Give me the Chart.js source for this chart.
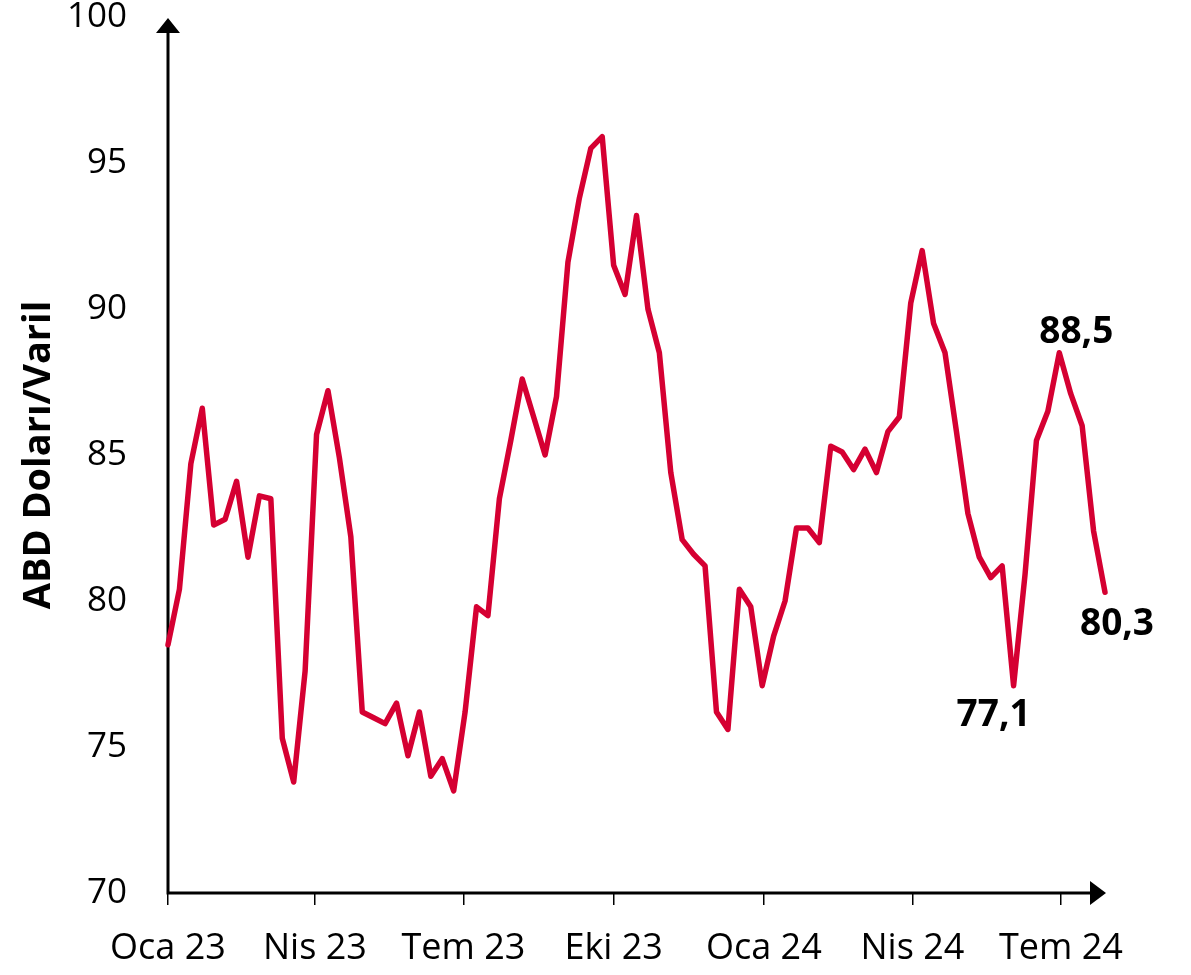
<!DOCTYPE html>
<html lang="tr">
<head>
<meta charset="utf-8">
<title>Brent petrol</title>
<script src="https://cdn.jsdelivr.net/npm/chart.js@4.4.1/dist/chart.umd.min.js"></script>
<style>
    html, body { margin: 0; padding: 0; background: #fff; }
    #wrap { width: 1191px; height: 975px; }
</style>
</head>
<body>
<div id="wrap"><canvas id="chart" width="1191" height="975"></canvas></div>
<script>
// haftalık fiyatlar, Ocak 2023 - Ağustos 2024 (ABD Doları/Varil)
const prices = [
    78.5, 80.4, 84.7, 86.6, 82.6, 82.8, 84.1, 81.5, 83.6, 83.5,
    75.3, 73.8, 77.6, 85.7, 87.2, 84.9, 82.2, 76.2, 76.0, 75.8,
    76.5, 74.7, 76.2, 74.0, 74.6, 73.5, 76.2, 79.8, 79.5, 83.5,
    85.5, 87.6, 86.3, 85.0, 87.0, 91.6, 93.8, 95.5, 95.9, 91.5,
    90.5, 93.2, 90.0, 88.5, 84.4, 82.1, 81.6, 81.2, 76.2, 75.6,
    80.4, 79.8, 77.1, 78.8, 80.0, 82.5, 82.5, 82.0, 85.3, 85.1,
    84.5, 85.2, 84.4, 85.8, 86.3, 90.2, 92.0, 89.5, 88.5, 85.8,
    83.0, 81.5, 80.8, 81.2, 77.1, 80.9, 85.5, 86.5, 88.5, 87.1,
    86.0, 82.4, 80.3
];

// eksen etiketleri (gün, 1 Ocak 2023'ten itibaren)
const tickDays = [0, 90, 181, 273, 365, 456, 547];
const tickLabels = ['Oca 23', 'Nis 23', 'Tem 23', 'Eki 23', 'Oca 24', 'Nis 24', 'Tem 24'];
const yTicks = [70, 75, 80, 85, 90, 95, 100];

// etiketli noktalar
const labelledPoints = [74, 78, 82];

const points = prices.map((v, i) => ({ x: i * 7, y: v }));
const fmt = v => v.toFixed(1).replace('.', ',');

const labelOffsets = { 74: [-20, 30], 78: [17, -20], 82: [12, 32] };

const axisArrows = {
    id: 'axisArrows',
    beforeDatasetsDraw(chart) {
        const { ctx, chartArea: a } = chart;
        ctx.save();
        ctx.strokeStyle = '#000';
        ctx.fillStyle = '#000';
        ctx.lineWidth = 3;
        ctx.beginPath();
        ctx.moveTo(a.left, a.bottom + 1.5);
        ctx.lineTo(a.left, a.top + 14);
        ctx.moveTo(a.left - 1.5, a.bottom);
        ctx.lineTo(a.right - 14, a.bottom);
        ctx.stroke();
        ctx.beginPath();
        ctx.moveTo(a.left, a.top + 1);
        ctx.lineTo(a.left - 12, a.top + 16);
        ctx.lineTo(a.left + 12, a.top + 16);
        ctx.closePath();
        ctx.moveTo(a.right + 1, a.bottom);
        ctx.lineTo(a.right - 15, a.bottom - 12);
        ctx.lineTo(a.right - 15, a.bottom + 12);
        ctx.closePath();
        ctx.fill();
        ctx.restore();
    }
};

const valueLabels = {
    id: 'valueLabels',
    afterDatasetsDraw(chart) {
        const { ctx } = chart;
        const meta = chart.getDatasetMeta(0);
        ctx.save();
        ctx.font = 'bold 37px "Open Sans"';
        ctx.fillStyle = '#000';
        ctx.textAlign = 'center';
        ctx.textBaseline = 'middle';
        labelledPoints.forEach(i => {
            const p = meta.data[i];
            const [dx, dy] = labelOffsets[i];
            ctx.fillText(fmt(prices[i]), p.x + dx, p.y + dy);
        });
        ctx.restore();
    }
};

new Chart(document.getElementById('chart'), {
    type: 'line',
    data: {
        datasets: [{
            data: points,
            borderColor: '#d50032',
            borderWidth: 5.5,
            borderJoinStyle: 'round',
            borderCapStyle: 'round',
            pointRadius: 0,
            tension: 0,
            clip: false
        }]
    },
    options: {
        responsive: false,
        animation: false,
        layout: { padding: { top: 0, right: 86, bottom: 0, left: 0 } },
        plugins: { legend: { display: false }, tooltip: { enabled: false } },
        scales: {
            x: {
                type: 'linear',
                min: 0,
                max: (prices.length - 1) * 7,
                afterFit: s => { s.height = 82; },
                afterBuildTicks: s => { s.ticks = tickDays.map(v => ({ value: v })); },
                border: { display: false },
                grid: { drawOnChartArea: false, drawTicks: true, tickLength: 12, color: '#000', lineWidth: 1.5 },
                ticks: {
                    autoSkip: false,
                    maxRotation: 0,
                    padding: 22,
                    color: '#000',
                    font: { family: 'Open Sans', size: 36 },
                    callback: v => tickLabels[tickDays.indexOf(v)] ?? ''
                }
            },
            y: {
                min: 70,
                max: 100,
                afterFit: s => { s.width = 168; },
                afterBuildTicks: s => { s.ticks = yTicks.map(v => ({ value: v })); },
                border: { display: false },
                grid: { display: false, drawTicks: true, tickLength: 41 },
                ticks: {
                    padding: 0,
                    color: '#000',
                    font: { family: 'Open Sans', size: 35, lineHeight: 0.97 }
                },
                title: {
                    display: true,
                    text: 'ABD Doları/Varil',
                    color: '#000',
                    font: { family: 'Open Sans', size: 38, weight: 'bold' },
                    padding: { top: 16, bottom: 0 }
                }
            }
        }
    },
    plugins: [axisArrows, valueLabels]
});
</script>
</body>
</html>
